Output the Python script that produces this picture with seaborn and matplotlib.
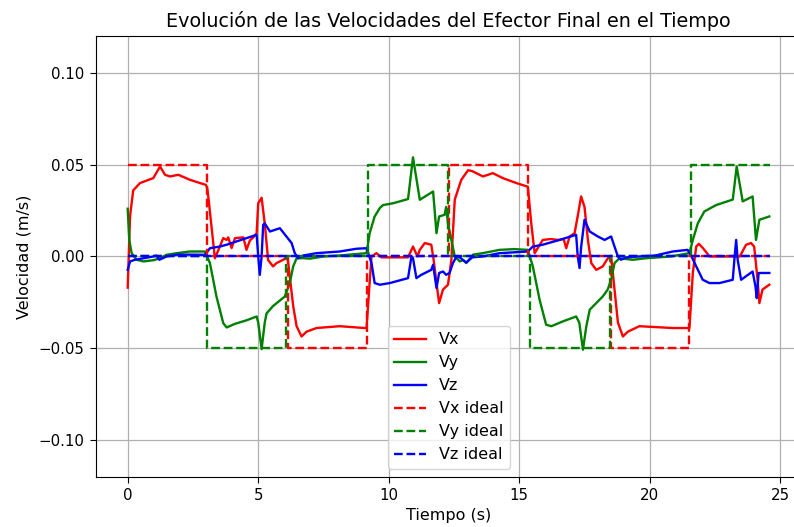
import matplotlib
matplotlib.use("Agg")
import matplotlib.pyplot as plt
import seaborn as sns
import numpy as np

# Measured end-effector velocities (time in s, velocity in m/s)
t_vx = [0.0, 0.09, 0.21, 0.47, 0.98, 1.24, 1.43, 1.62, 1.94, 2.38, 2.77, 3.0, 3.05, 3.1,
        3.34, 3.53, 3.66, 3.79, 3.85, 3.98, 4.11, 4.43, 4.55, 4.68, 4.81, 4.94, 5.0, 5.13,
        5.25, 5.38, 5.57, 5.7, 5.96, 6.12, 6.34, 6.47, 6.66, 6.85, 7.23, 8.12, 9.08, 9.15,
        9.25, 9.34, 9.53, 9.72, 10.74, 10.93, 11.1, 11.19, 11.38, 11.63, 11.72, 11.83, 11.93,
        12.08, 12.27, 12.4, 12.53, 12.78, 13.04, 13.2, 13.61, 13.99, 14.37, 14.89, 15.33,
        15.46, 15.59, 15.9, 16.2, 16.5, 16.7, 16.8, 16.93, 17.12, 17.24, 17.37, 17.5, 17.63,
        17.76, 17.95, 18.2, 18.39, 18.52, 18.65, 18.78, 18.97, 19.16, 19.6, 20.88, 21.52,
        21.65, 21.78, 21.88, 22.04, 22.29, 23.18, 23.45, 23.69, 23.88, 24.0, 24.13, 24.2,
        24.32, 24.58]
vx = [-0.017, 0.022, 0.036, 0.040, 0.0427, 0.049, 0.0445, 0.0436, 0.0445, 0.0418, 0.040,
      0.039, 0.037, 0.031, -0.001, 0.0054, 0.010, 0.009, 0.0104, 0.0046, 0.010, 0.0104,
      0.0036, 0.0087, 0.0104, 0.0127, 0.029, 0.032, 0.018, -0.002, -0.0054, -0.0036,
      -0.0018, 0.0, -0.027, -0.038, -0.0436, -0.041, -0.039, -0.038, -0.039, -0.039,
      -0.018, 0.0, 0.0018, -0.0005, -0.0005, 0.0054, 0.0, 0.0036, 0.0073, 0.0064, -0.0018,
      -0.0145, -0.0254, -0.018, -0.0154, -0.0018, 0.031, 0.0418, 0.047, 0.0465, 0.0436,
      0.0454, 0.0427, 0.040, 0.038, 0.018, 0.0018, 0.009, 0.0095, 0.009, 0.0095, 0.0045,
      0.0109, 0.0127, 0.022, 0.0327, 0.027, 0.009, -0.0036, -0.0073, -0.0054, -0.001, 0.0,
      -0.018, -0.036, -0.0436, -0.041, -0.038, -0.039, -0.039, -0.009, 0.0054, 0.0069,
      0.0045, 0.0, 0.0, 0.0, 0.0064, 0.0073, 0.0054, -0.0127, -0.0254, -0.018, -0.0154]

t_vy = [0.0, 0.06, 0.15, 0.34, 0.6, 1.0, 1.24, 1.49, 1.88, 2.38, 2.96, 3.15, 3.4, 3.66,
        3.79, 4.11, 4.55, 4.94, 5.0, 5.13, 5.25, 5.32, 5.57, 5.83, 6.02, 6.21, 6.34, 6.47,
        6.72, 6.98, 7.5, 8.1, 9.15, 9.27, 9.46, 9.66, 9.78, 10.17, 10.74, 10.93, 11.19, 11.7,
        11.83, 11.93, 12.14, 12.2, 12.27, 12.4, 12.53, 12.72, 12.85, 12.97, 13.23, 13.6,
        14.25, 14.8, 15.33, 15.52, 15.78, 16.03, 16.23, 16.67, 17.18, 17.3, 17.44, 17.57,
        17.7, 17.95, 18.2, 18.39, 18.52, 18.65, 18.84, 19.35, 19.9, 20.8, 21.52, 21.65,
        21.84, 22.09, 22.54, 23.18, 23.33, 23.56, 23.94, 24.07, 24.2, 24.58]
vy = [0.026, 0.009, 0.0018, -0.0018, -0.0027, -0.002, -0.0009, 0.0009, 0.0018, 0.0027,
      0.0027, -0.0036, -0.0218, -0.0363, -0.0387, -0.0367, -0.0348, -0.0327, -0.036,
      -0.0505, -0.036, -0.031, -0.027, -0.024, -0.0218, -0.0145, -0.0054, -0.001, -0.0009,
      -0.0012, 0.0, 0.0005, 0.0018, 0.0127, 0.0218, 0.0264, 0.028, 0.029, 0.0313, 0.054,
      0.0309, 0.0354, 0.0127, 0.0218, 0.0227, 0.027, 0.018, 0.009, 0.0, -0.0027, -0.002,
      -0.0036, 0.001, 0.0018, 0.0036, 0.004, 0.0036, -0.0054, -0.0236, -0.0372, -0.038,
      -0.0354, -0.0327, -0.036, -0.0508, -0.038, -0.029, -0.0254, -0.0218, -0.018, -0.0127,
      -0.0036, -0.001, -0.0018, -0.0009, 0.0, 0.0018, 0.009, 0.018, 0.0245, 0.028, 0.031,
      0.049, 0.030, 0.0327, 0.009, 0.020, 0.0218]

t_vz = [0.0, 0.09, 0.28, 0.6, 0.98, 1.1, 1.21, 1.49, 1.9, 2.4, 2.96, 3.15, 3.53, 3.79, 4.17,
        4.68, 4.94, 5.0, 5.06, 5.13, 5.19, 5.25, 5.45, 5.83, 6.08, 6.28, 6.4, 6.53, 6.72,
        7.23, 8.12, 8.76, 9.15, 9.34, 9.46, 9.66, 10.04, 10.74, 10.87, 10.93, 11.06, 11.25,
        11.63, 11.7, 11.83, 11.93, 12.08, 12.2, 12.33, 12.46, 12.6, 12.72, 12.97, 13.2, 13.6,
        14.25, 15.33, 15.52, 15.9, 16.54, 17.18, 17.24, 17.31, 17.37, 17.5, 17.7, 18.01,
        18.27, 18.52, 18.65, 18.78, 18.9, 19.1, 19.6, 20.2, 20.88, 21.45, 21.6, 21.78, 22.03,
        22.29, 22.67, 23.18, 23.24, 23.31, 23.37, 23.5, 23.94, 24.05, 24.1, 24.17, 24.32,
        24.58]
vz = [-0.0073, -0.0027, -0.0018, -0.001, 0.0, 0.0005, -0.0018, 0.0, 0.001, 0.001, 0.0009,
      0.0045, 0.0054, 0.0064, 0.0082, 0.0106, 0.0118, 0.0, -0.010, 0.0, 0.0172, 0.018,
      0.0136, 0.0154, 0.0109, 0.0073, 0.0018, -0.001, 0.0005, 0.0018, 0.0027, 0.0042,
      0.0045, -0.0036, -0.0145, -0.0154, -0.0145, -0.0118, 0.0, -0.001, -0.0118, -0.010,
      -0.0073, -0.0045, -0.0172, -0.009, -0.0082, -0.010, -0.009, -0.0036, 0.0, -0.0005,
      -0.0033, -0.0005, 0.0, 0.0018, 0.0027, 0.0054, 0.0064, 0.009, 0.0118, 0.0, -0.0063,
      0.005, 0.020, 0.0136, 0.0109, 0.009, 0.0109, 0.0054, 0.0, -0.0018, -0.0005, 0.0,
      0.0005, 0.0027, 0.0036, 0.0, -0.0054, -0.0127, -0.0145, -0.0145, -0.0127, -0.002,
      0.009, -0.002, -0.0127, -0.0082, -0.0163, -0.0227, -0.009, -0.009, -0.009]

# Ideal reference velocities: segment start times and levels (held until next start)
t_vx_ideal = [0.0, 3.03, 6.15, 9.15, 12.3, 15.35, 18.52, 21.52, 24.6]
vx_ideal = [0.05, 0.0, -0.05, 0.0, 0.05, 0.0, -0.05, 0.0, 0.0]
t_vy_ideal = [0.0, 3.03, 6.08, 9.2, 12.26, 15.4, 18.46, 21.58, 24.6]
vy_ideal = [0.0, -0.05, 0.0, 0.05, 0.0, -0.05, 0.0, 0.05, 0.05]
t_vz_ideal = [0.0, 24.6]
vz_ideal = [0.0, 0.0]

fig = plt.figure(figsize=(7.94, 5.27), dpi=100)
ax = fig.add_axes([0.1204, 0.0955, 0.8896, 0.8357])

lw = 1.7
sns.lineplot(x=t_vx, y=vx, color="red", label="Vx", ax=ax, estimator=None, linewidth=lw)
sns.lineplot(x=t_vy, y=vy, color="green", label="Vy", ax=ax, estimator=None, linewidth=lw)
sns.lineplot(x=t_vz, y=vz, color="blue", label="Vz", ax=ax, estimator=None, linewidth=lw)
sns.lineplot(x=t_vx_ideal, y=vx_ideal, color="red", linestyle="--", drawstyle="steps-post",
             label="Vx ideal", ax=ax, estimator=None, linewidth=lw)
sns.lineplot(x=t_vy_ideal, y=vy_ideal, color="green", linestyle="--", drawstyle="steps-post",
             label="Vy ideal", ax=ax, estimator=None, linewidth=lw)
sns.lineplot(x=t_vz_ideal, y=vz_ideal, color="blue", linestyle="--", drawstyle="steps-post",
             label="Vz ideal", ax=ax, estimator=None, linewidth=lw)

ax.set_xlim(-1.23, 25.83)
ax.set_ylim(-0.12, 0.12)
ax.set_yticks([-0.10, -0.05, 0.0, 0.05, 0.10])
ax.set_xticks([0, 5, 10, 15, 20, 25])
ax.tick_params(labelsize=10.8, length=4, pad=4)
ax.grid(True, color="#b0b0b0", linewidth=0.9)
ax.set_axisbelow(True)
ax.set_title("Evolución de las Velocidades del Efector Final en el Tiempo", fontsize=13.8, pad=7)
ax.set_xlabel("Tiempo (s)", fontsize=11.5, labelpad=4)
ax.set_ylabel("Velocidad (m/s)", fontsize=11.5, labelpad=5)
ax.legend(loc="lower center", fontsize=11.5)

fig.savefig("out.png", dpi=100)
